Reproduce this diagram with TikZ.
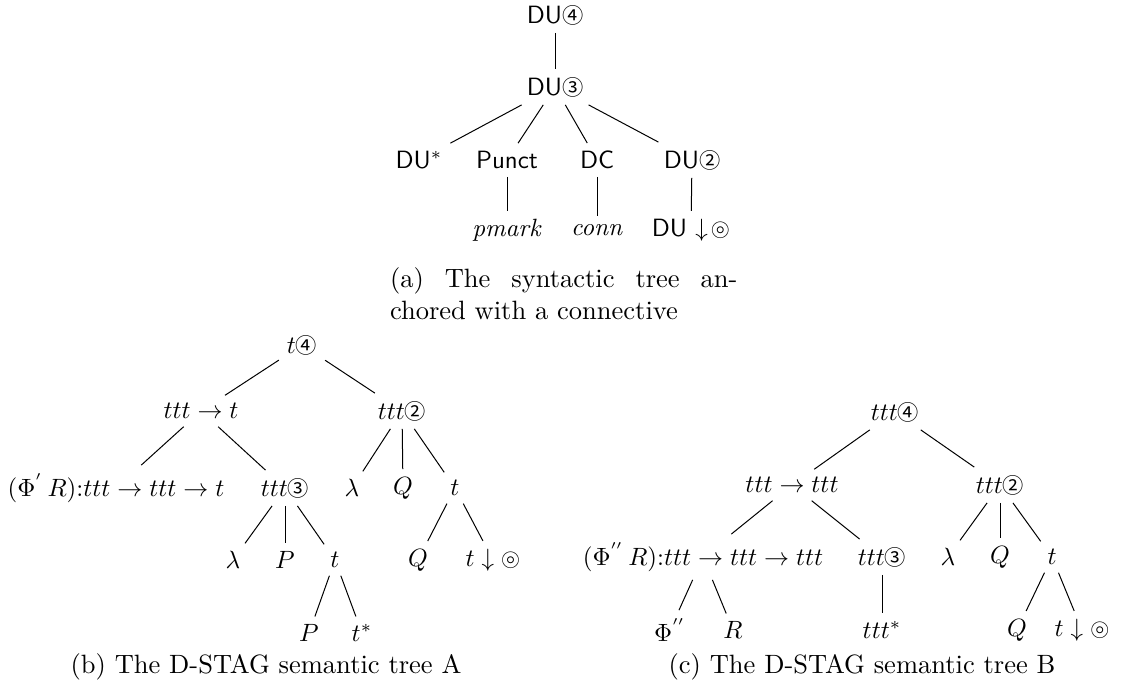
\documentclass[tikz,border=0pt]{standalone}
\usepackage{amssymb}
\usepackage{fontspec}
\newfontfamily\cjk{Noto Sans CJK SC}
\newcommand{\cnum}[1]{{\cjk\fontsize{8.5}{8.5}\selectfont #1}}

\begin{document}
\begin{tikzpicture}[
  x=0.4pt, y=-0.4pt,
  every node/.style={inner sep=3pt, font=\fontsize{10}{12}\selectfont},
  syn/.style={font=\fontsize{10}{12}\selectfont\sffamily},
  capt/.style={font=\fontsize{10.6}{12.8}\selectfont, align=left},
]
\useasboundingbox (0,0) rectangle (1130,697);

% ---------- (a) syntactic tree ----------
\node[syn] (du4) at (555, 15) {DU\cnum{④}};
\node[syn] (du3) at (555, 87) {DU\cnum{③}};
\node[syn] (dustar) at (419,160) {DU$^*$};
\node[syn] (punct) at (507,160) {Punct};
\node[syn] (dc) at (597,160) {DC};
\node[syn] (du2) at (692,160) {DU\cnum{②}};
\node (pmark) at (507,230) {\textit{pmark}};
\node (conn) at (597,230) {\textit{conn}};
\node[syn] (dudown) at (691,230) {DU $\downarrow\!\circledcirc$};

\draw (du4) -- (du3);
\draw (du3) -- (dustar);
\draw (du3) -- (punct);
\draw (du3) -- (dc);
\draw (du3) -- (du2);
\draw (punct) -- (pmark);
\draw (dc) -- (conn);
\draw (du2) -- (dudown);

\node[capt, anchor=base west] (capa) at (382,320)
  {\hbox to 139pt{(a)\hfill The\hfill syntactic\hfill tree\hfill an-}\\chored with a connective};

% ---------- (b) semantic tree A ----------
\node (bt) at (302,345) {$t$\cnum{④}};
\node (bfun) at (201,411) {$ttt \rightarrow t$};
\node (bttt2) at (402,411) {$ttt$\cnum{②}};
\node (bphi) at (116,488) {$(\Phi^{'}\,R){:}ttt \rightarrow ttt \rightarrow t$};
\node (bttt3) at (285,488) {$ttt$\cnum{③}};
\node (blam) at (352,488) {$\lambda$};
\node (bq) at (403,488) {$Q$};
\node (bta) at (455,488) {$t$};
\node (blam3) at (233,560) {$\lambda$};
\node (bp3) at (285,560) {$P$};
\node (btb) at (335,560) {$t$};
\node (bq2) at (418,560) {$Q$};
\node (bdown) at (493,560) {$t\downarrow\circledcirc$};
\node (bp) at (309,633) {$P$};
\node (bstar) at (362,633) {$t^*$};

\draw (bt) -- (bfun);
\draw (bt) -- (bttt2);
\draw (bfun) -- (bphi);
\draw (bfun) -- (bttt3);
\draw (bttt2) -- (blam);
\draw (bttt2) -- (bq);
\draw (bttt2) -- (bta);
\draw (bttt3) -- (blam3);
\draw (bttt3) -- (bp3);
\draw (bttt3) -- (btb);
\draw (btb) -- (bp);
\draw (btb) -- (bstar);
\draw (bta) -- (bq2);
\draw (bta) -- (bdown);

\node[capt] (capb) at (266,667) {(b) The D-STAG semantic tree A};

% ---------- (c) semantic tree B ----------
\node (ct) at (895,412) {$ttt$\cnum{④}};
\node (cfun) at (792,485) {$ttt \rightarrow ttt$};
\node (cttt2) at (1000,485) {$ttt$\cnum{②}};
\node (cphi) at (703,557) {$(\Phi^{''}\,R){:}ttt \rightarrow ttt \rightarrow ttt$};
\node (cttt3) at (882,557) {$ttt$\cnum{③}};
\node (clam) at (948,557) {$\lambda$};
\node (cq) at (1000,557) {$Q$};
\node (cta) at (1052,557) {$t$};
\node (cphi2) at (670,630) {$\Phi^{''}$};
\node (cr) at (733,630) {$R$};
\node (cstar) at (882,630) {$ttt^*$};
\node (cq2) at (1017,630) {$Q$};
\node (cdown) at (1082,630) {$t\downarrow\circledcirc$};

\draw (ct) -- (cfun);
\draw (ct) -- (cttt2);
\draw (cfun) -- (cphi);
\draw (cfun) -- (cttt3);
\draw (cttt2) -- (clam);
\draw (cttt2) -- (cq);
\draw (cttt2) -- (cta);
\draw (cphi) -- (cphi2);
\draw (cphi) -- (cr);
\draw (cttt3) -- (cstar);
\draw (cta) -- (cq2);
\draw (cta) -- (cdown);

\node[capt] (capc) at (862,667) {(c) The D-STAG semantic tree B};

\end{tikzpicture}
\end{document}
